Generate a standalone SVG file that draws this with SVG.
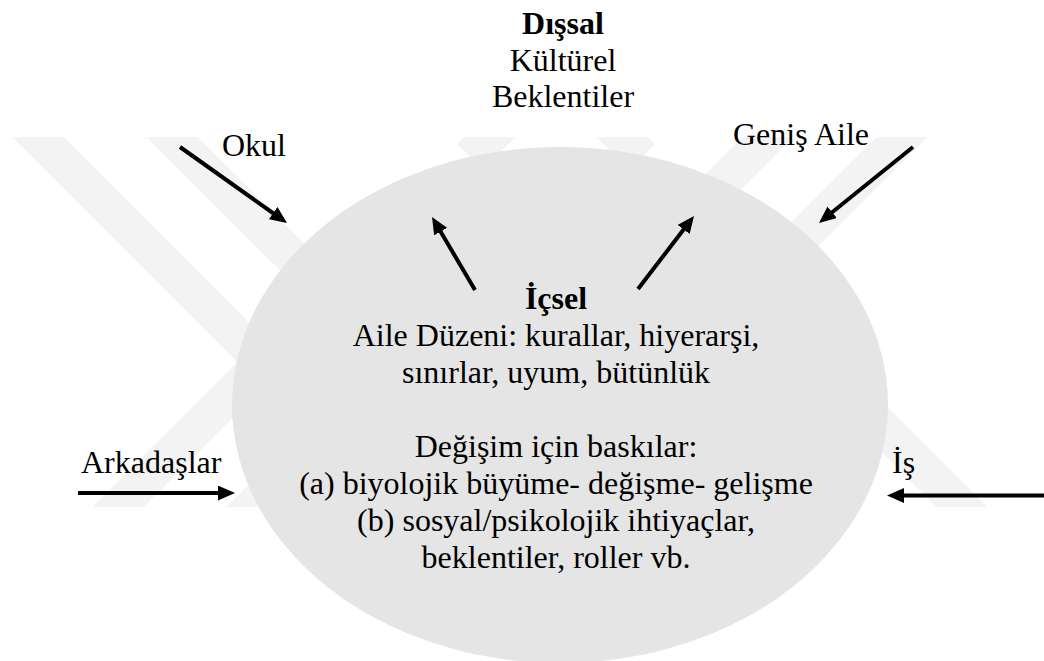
<svg xmlns="http://www.w3.org/2000/svg" width="1044" height="661" viewBox="0 0 1044 661">
<style>
text{font-family:'Liberation Serif','Times New Roman',Tinos,'DejaVu Serif',serif;font-size:32px;fill:#000}
.c{text-anchor:middle}
.b{font-weight:bold}
.wm{fill:none;stroke:#f3f3f3;stroke-width:36;stroke-linejoin:miter;stroke-miterlimit:10}
.arr{stroke:#000;stroke-width:4;fill:none;marker-end:url(#ah)}
</style>
<defs>
<marker id="ah" markerUnits="userSpaceOnUse" markerWidth="17" markerHeight="15" refX="4" refY="7.5" orient="auto" viewBox="0 0 17 15">
<path d="M0,0 L17,7.5 L0,15 z" fill="#000"/>
</marker>
<clipPath id="wmclip"><rect x="0" y="137" width="1044" height="370"/></clipPath>
</defs>
<rect x="0" y="0" width="1044" height="661" fill="#fff"/>
<g id="watermark" clip-path="url(#wmclip)">
<path class="wm" d="M-2,97 L263,362 L78,547"/>
<path class="wm" d="M132,97 L397,362 L212,547"/>
<path class="wm" d="M942,97 L747,292 L1002,547"/>
<path class="wm" d="M808,97 L613,292 L868,547"/>
<path class="wm" d="M510,117 L470,157"/>
<path class="wm" d="M602,117 L642,157"/>
</g>
<g id="ic-aile">
<ellipse cx="560" cy="405" rx="328" ry="258" fill="#e5e5e5"/>
<text class="c b" x="556" y="309">İçsel</text>
<text class="c" x="556" y="345.5">Aile Düzeni: kurallar, hiyerarşi,</text>
<text class="c" x="556" y="382.5">sınırlar, uyum, bütünlük</text>
<text class="c" x="556" y="456.5">Değişim için baskılar:</text>
<text class="c" x="556" y="494">(a) biyolojik büyüme- değişme- gelişme</text>
<text class="c" x="556" y="531">(b) sosyal/psikolojik ihtiyaçlar,</text>
<text class="c" x="556" y="568">beklentiler, roller vb.</text>
</g>
<g id="dissal">
<text class="c b" x="563" y="34">Dışsal</text>
<text class="c" x="563" y="70.5">Kültürel</text>
<text class="c" x="563" y="107">Beklentiler</text>
</g>
<g id="okul"><text x="222" y="156">Okul</text></g>
<g id="genis-aile"><text x="733" y="145">Geniş Aile</text></g>
<g id="arkadaslar"><text x="81" y="473">Arkadaşlar</text></g>
<g id="is"><text x="892" y="473">İş</text></g>
<g id="connectors">
<line class="arr" x1="180" y1="147" x2="276.4" y2="215.5"/>
<line class="arr" x1="475" y1="290" x2="438.6" y2="228.2"/>
<line class="arr" x1="638" y1="289" x2="686.1" y2="226.3"/>
<line class="arr" x1="913" y1="147" x2="829.1" y2="214.8"/>
<line class="arr" x1="78" y1="493" x2="222" y2="493"/>
<line class="arr" x1="1046" y1="495.5" x2="900" y2="495.5"/>
</g>
</svg>
